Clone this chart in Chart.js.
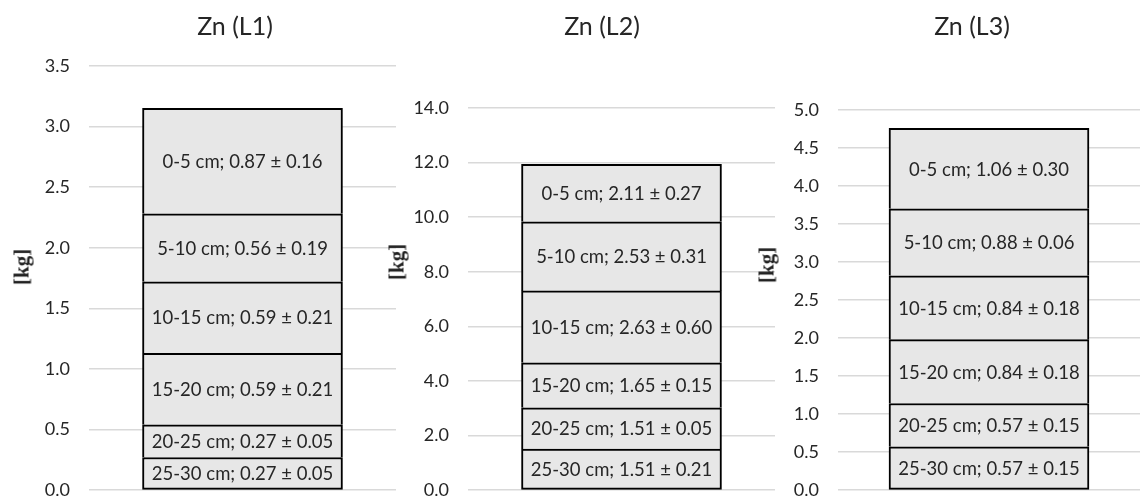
<!DOCTYPE html>
<html>
<head>
<meta charset="utf-8">
<script src="https://cdn.jsdelivr.net/npm/chart.js@4.4.1/dist/chart.umd.min.js"></script>
<style>
html,body{margin:0;padding:0;background:#fff;overflow:hidden;width:1140px;height:498px;}
canvas{position:absolute;top:0;}
.title{position:absolute;font-family:Lato,'Open Sans',sans-serif;font-size:25px;color:#262626;transform:translate(-50%,-50%);white-space:nowrap;}
.yt{position:absolute;font-family:'Liberation Serif',serif;font-weight:bold;font-size:21px;color:#222;transform:translate(-50%,-50%) rotate(-90deg);white-space:nowrap;}
</style>
</head>
<body>
<canvas id="c1"></canvas>
<canvas id="c2"></canvas>
<canvas id="c3"></canvas>
<div class="title" style="left:235px;top:25px;">Zn (L1)</div>
<div class="title" style="left:602px;top:25px;">Zn (L2)</div>
<div class="title" style="left:972px;top:25px;">Zn (L3)</div>
<div class="yt" style="left:22px;top:267px;">[kg]</div>
<div class="yt" style="left:397px;top:262px;">[kg]</div>
<div class="yt" style="left:767px;top:265px;">[kg]</div>
<script>
// Depth layers, stacked bottom (deepest) to top
const depths = ['25-30 cm', '20-25 cm', '15-20 cm', '10-15 cm', '5-10 cm', '0-5 cm'];

const L1_mean = [0.27, 0.27, 0.59, 0.59, 0.56, 0.87];
const L1_sd   = [0.05, 0.05, 0.21, 0.21, 0.19, 0.16];

const L2_mean = [1.51, 1.51, 1.65, 2.63, 2.53, 2.11];
const L2_sd   = [0.21, 0.05, 0.15, 0.60, 0.31, 0.27];

const L3_mean = [0.57, 0.57, 0.84, 0.84, 0.88, 1.06];
const L3_sd   = [0.15, 0.15, 0.18, 0.18, 0.06, 0.30];

const L1_axis = { max: 3.5, step: 0.5 };
const L2_axis = { max: 14, step: 2 };
const L3_axis = { max: 5, step: 0.5 };

const segLabels = {
  id: 'segLabels',
  afterDatasetsDraw(chart) {
    const ctx = chart.ctx;
    const sds = chart.options.plugins.segLabels.sds;
    ctx.save();
    ctx.font = '18.5px Lato, "Open Sans", sans-serif';
    ctx.fillStyle = '#262626';
    ctx.textAlign = 'center';
    ctx.textBaseline = 'middle';
    chart.data.datasets.forEach((ds, i) => {
      const meta = chart.getDatasetMeta(i);
      meta.data.forEach((el, j) => {
        const v = ds.data[j];
        const txt = depths[i] + '; ' + v.toFixed(2) + ' \u00B1 ' + sds[i].toFixed(2);
        ctx.fillText(txt, el.x, (el.y + el.base) / 2 + 1);
      });
    });
    ctx.restore();
  }
};

function makeChart(id, left, width, yWidth, padTop, means, sds, axis) {
  const cv = document.getElementById(id);
  cv.width = width; cv.height = 520;
  cv.style.left = left + 'px';
  cv.style.width = width + 'px'; cv.style.height = '520px';
  return new Chart(cv, {
    type: 'bar',
    data: {
      labels: ['Zn'],
      datasets: means.map((m, i) => ({
        label: depths[i],
        data: [m],
        backgroundColor: '#e7e7e7',
        borderColor: '#000',
        borderWidth: 2,
        borderSkipped: i === 0 ? false : 'start',
        barThickness: 200
      }))
    },
    options: {
      responsive: false,
      devicePixelRatio: 1,
      animation: false,
      layout: { padding: { top: padTop, bottom: 10, left: 0, right: 0 } },
      plugins: {
        legend: { display: false },
        tooltip: { enabled: false },
        title: { display: false },
        segLabels: { sds: sds }
      },
      scales: {
        x: { stacked: true, display: false },
        y: {
          stacked: true,
          min: 0,
          max: axis.max,
          afterFit: s => { s.width = yWidth; },
          ticks: {
            stepSize: axis.step,
            padding: 19,
            color: '#262626',
            font: { family: 'Lato, "Open Sans", sans-serif', size: 18 },
            callback: v => Number(v).toFixed(1)
          },
          grid: { color: '#d9d9d9', lineWidth: 1.5, drawTicks: false },
          border: { display: false }
        }
      }
    },
    plugins: [segLabels]
  });
}

makeChart('c1', 0, 396, 89, 66, L1_mean, L1_sd, L1_axis);
makeChart('c2', 380, 395, 88, 108, L2_mean, L2_sd, L2_axis);
makeChart('c3', 760, 380, 78, 110, L3_mean, L3_sd, L3_axis);
</script>
</body>
</html>
